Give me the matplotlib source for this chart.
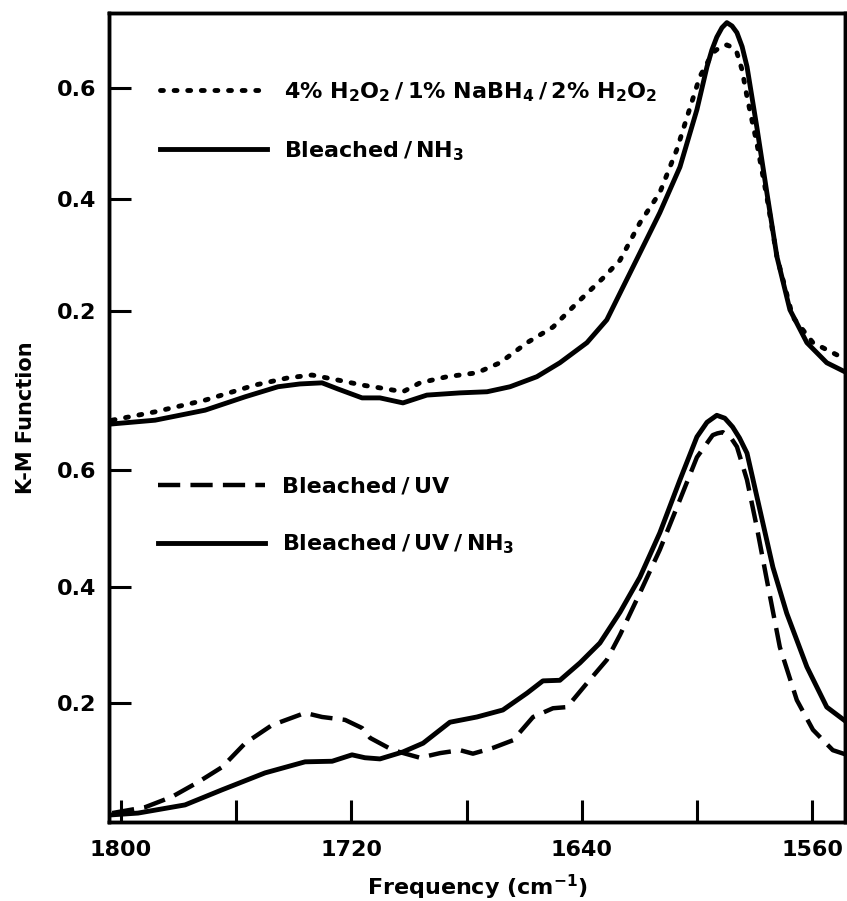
import matplotlib
matplotlib.use("Agg")
import matplotlib.pyplot as plt

plt.rcParams['font.family'] = ['DejaVu Sans']
plt.rcParams['font.weight'] = 'bold'
plt.rcParams['axes.labelweight'] = 'bold'
plt.rcParams['mathtext.fontset'] = 'dejavusans'
plt.rcParams['mathtext.default'] = 'bf'

# upper panel: 4% H2O2/1% NaBH4/2% H2O2 (dotted) and Bleached/NH3 (solid)
up_solid_x = [1803.8, 1788.2, 1770.8, 1756.9, 1745.5, 1737.9, 1730.2, 1724.7, 1716.3,
              1710.1, 1702.1, 1693.8, 1682.3, 1672.9, 1664.9, 1655.6, 1647.6, 1638.2,
              1631.3, 1626.7, 1619.8, 1612.9, 1605.9, 1600.0, 1596.5, 1594.8, 1593.1,
              1591.3, 1589.6, 1587.8, 1586.1, 1584.3, 1582.6, 1579.2, 1575.7, 1572.2,
              1567.7, 1561.8, 1554.9, 1547.9]
up_solid_y = [-0.003, 0.004, 0.022, 0.046, 0.064, 0.069, 0.071, 0.060, 0.044,
              0.044, 0.035, 0.049, 0.053, 0.055, 0.064, 0.082, 0.107, 0.143,
              0.184, 0.232, 0.304, 0.376, 0.458, 0.561, 0.638, 0.668, 0.691,
              0.708, 0.717, 0.711, 0.699, 0.674, 0.638, 0.530, 0.412, 0.297,
              0.202, 0.143, 0.107, 0.089]

up_dot_x = [1803.1, 1788.2, 1770.8, 1753.5, 1742.0, 1733.7, 1724.7, 1716.3, 1710.1,
            1702.1, 1696.2, 1686.8, 1676.4, 1668.4, 1659.0, 1650.0, 1641.7, 1632.6,
            1626.7, 1619.8, 1612.9, 1607.0, 1599.0, 1594.5, 1592.0, 1589.6, 1587.8,
            1586.1, 1584.3, 1582.6, 1579.2, 1575.7, 1572.2, 1566.7, 1559.7, 1547.9]
up_dot_y = [0.004, 0.019, 0.040, 0.067, 0.080, 0.085, 0.076, 0.067, 0.062,
            0.055, 0.071, 0.082, 0.089, 0.107, 0.143, 0.171, 0.214, 0.259,
            0.291, 0.358, 0.412, 0.489, 0.620, 0.663, 0.673, 0.677, 0.673,
            0.663, 0.632, 0.584, 0.501, 0.404, 0.297, 0.189, 0.143, 0.112]

# lower panel: Bleached/UV (dashed) and Bleached/UV/NH3 (solid)
lo_solid_x = [1803.1, 1794.1, 1777.8, 1764.9, 1750.0, 1736.1, 1726.7, 1719.8, 1715.3,
              1710.1, 1702.1, 1695.1, 1685.8, 1676.4, 1667.4, 1659.0, 1653.5, 1647.6,
              1640.6, 1633.7, 1626.7, 1619.8, 1612.9, 1605.9, 1600.0, 1596.5, 1593.1,
              1590.3, 1587.6, 1585.2, 1582.6, 1578.1, 1573.6, 1568.8, 1561.8, 1554.9,
              1547.9]
lo_solid_y = [0.008, 0.011, 0.025, 0.051, 0.080, 0.099, 0.100, 0.111, 0.106,
              0.104, 0.116, 0.131, 0.167, 0.176, 0.188, 0.217, 0.238, 0.239,
              0.269, 0.303, 0.356, 0.416, 0.492, 0.583, 0.657, 0.682, 0.694,
              0.689, 0.674, 0.655, 0.629, 0.531, 0.433, 0.354, 0.262, 0.193,
              0.167]

lo_dash_x = [1803.1, 1791.7, 1782.3, 1773.3, 1764.9, 1756.9, 1747.6, 1736.1, 1730.2,
             1722.2, 1716.3, 1713.5, 1705.6, 1696.2, 1689.2, 1682.3, 1677.8, 1670.8,
             1663.9, 1656.9, 1650.0, 1645.1, 1638.2, 1631.3, 1626.7, 1619.8, 1612.9,
             1605.9, 1600.0, 1594.5, 1592.9, 1591.0, 1588.0, 1586.1, 1582.6, 1579.2,
             1575.7, 1571.2, 1565.3, 1559.7, 1552.8, 1547.9]
lo_dash_y = [0.011, 0.021, 0.039, 0.064, 0.090, 0.131, 0.162, 0.183, 0.176,
             0.171, 0.157, 0.140, 0.119, 0.106, 0.114, 0.119, 0.113, 0.123,
             0.136, 0.176, 0.191, 0.193, 0.234, 0.274, 0.317, 0.389, 0.463,
             0.549, 0.622, 0.660, 0.663, 0.665, 0.654, 0.640, 0.583, 0.502,
             0.411, 0.296, 0.205, 0.154, 0.119, 0.111]

x_ticks = [1800, 1760, 1720, 1680, 1640, 1600, 1560]
x_ticklabels = ['1800', '', '1720', '', '1640', '', '1560']
y_ticks = [0.2, 0.4, 0.6]
y_ticklabels = ['0.2', '0.4', '0.6']

sl = '\u2009/\u2009'  # thin spaces round the slashes

fig = plt.figure(figsize=(8.47, 9.01), dpi=100)
ax = fig.add_axes([0.1287, 0.0877, 0.8695, 0.898])
ax2 = ax.twinx()

# lower panel on the main axes
ax.plot(lo_dash_x, lo_dash_y, color='black', lw=3.2, linestyle=(0, (5, 2.3)),
        label='Bleached' + sl + 'UV')
ax.plot(lo_solid_x, lo_solid_y, color='black', lw=3.5,
        label='Bleached' + sl + 'UV' + sl + r'NH$_3$')
ax.set_ylim(-0.0043, 1.385)

# upper panel on a twin with its own scale
ax2.plot(up_dot_x, up_dot_y, color='black', lw=3.5, linestyle=(0, (0.6, 2.2)),
         dash_capstyle='round',
         label=r'4% H$_2$O$_2$' + sl + r'1% NaBH$_4$' + sl + r'2% H$_2$O$_2$')
ax2.plot(up_solid_x, up_solid_y, color='black', lw=3.5, label='Bleached' + sl + r'NH$_3$')
ax2.set_ylim(-0.7166, 0.7345)

ax.set_xlim(1804.2, 1548.4)
ax.set_xticks(x_ticks)
ax.set_xticklabels(x_ticklabels)

for a in (ax, ax2):
    a.set_yticks(y_ticks)
    a.set_yticklabels(y_ticklabels)
    a.yaxis.set_ticks_position('left')
    a.tick_params(axis='both', direction='in', length=16, width=2.2,
                  labelsize=16, pad=9)
    for s in a.spines.values():
        s.set_linewidth(2.5)
ax.tick_params(axis='x', pad=13)
ax2.yaxis.set_label_position('left')

ax.set_xlabel(r'Frequency (cm$^{-1}$)', fontsize=16, labelpad=9)
ax.set_ylabel('K-M Function', fontsize=15, labelpad=15)

ax.legend(loc='upper left', bbox_to_anchor=(0.0665, 0.4265), frameon=False,
          fontsize=16, handlelength=4.8, handletextpad=0.8, labelspacing=1.6,
          borderpad=0, borderaxespad=0)
ax2.legend(loc='upper left', bbox_to_anchor=(0.0692, 0.917), frameon=False,
           fontsize=16, handlelength=4.8, handletextpad=0.8, labelspacing=1.6,
           borderpad=0, borderaxespad=0)

plt.savefig('out.png', dpi=100)
